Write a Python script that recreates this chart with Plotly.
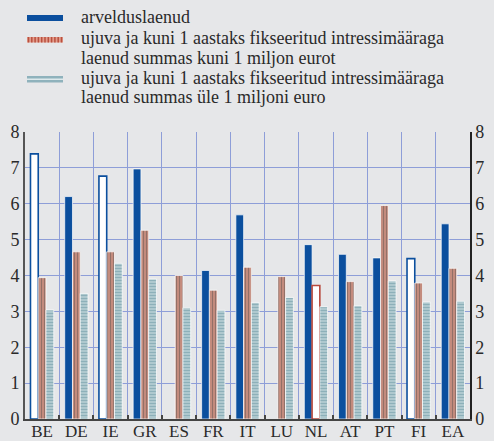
import plotly.graph_objects as go

categories = ["BE", "DE", "IE", "GR", "ES", "FR", "IT", "LU", "NL", "AT", "PT", "FI", "EA"]
overdrafts = [7.39, 6.20, 6.77, 6.97, None, 4.14, 5.69, None, 4.86, 4.59, 4.49, 4.47, 5.44]
small_loans = [3.94, 4.66, 4.66, 5.26, 4.00, 3.59, 4.23, 3.97, 3.72, 3.83, 5.95, 3.79, 4.20]
large_loans = [3.04, 3.50, 4.34, 3.90, 3.10, 3.03, 3.25, 3.39, 3.13, 3.16, 3.85, 3.26, 3.28]
# bars drawn hollow (outline only) in the original
overdrafts_hollow = ["BE", "IE", "FI"]
small_loans_hollow = ["NL"]

legend_lines = [
    ["arvelduslaenud"],
    ["ujuva ja kuni 1 aastaks fikseeritud intressimääraga", "laenud summas kuni 1 miljon eurot"],
    ["ujuva ja kuni 1 aastaks fikseeritud intressimääraga", "laenud summas üle 1 miljoni euro"],
]
y_ticks = [0, 1, 2, 3, 4, 5, 6, 7, 8]

BLUE = "#0B4F9E"
RED_BG = "#E29C8B"
RED_FG = "#B9503F"
TEAL_BG = "#BCD3D8"
TEAL_FG = "#5E8D9A"
BG = "#E6E7E9"
GRID = "#8E9ED8"
FONT = "Liberation Serif, Times New Roman, serif"
FS = 18

W, H = 494, 441
L, R, T, B = 25, 24, 132, 22

fig = go.Figure()

blue_hollow = [c in overdrafts_hollow for c in categories]
fig.add_trace(go.Bar(
    x=categories, y=overdrafts, showlegend=False,
    marker=dict(
        color=["white" if h else BLUE for h in blue_hollow],
        line=dict(color=[BLUE if h else "white" for h in blue_hollow],
                  width=[1.6 if h else 0.7 for h in blue_hollow]),
    ),
))

red_hollow = [c in small_loans_hollow for c in categories]
fig.add_trace(go.Bar(
    x=categories, y=small_loans, showlegend=False,
    marker=dict(
        color=["white" if h else RED_BG for h in red_hollow],
        line=dict(color=["#B8483C" if h else "white" for h in red_hollow],
                  width=[1.6 if h else 0.7 for h in red_hollow]),
        pattern=dict(shape=["" if h else "|" for h in red_hollow],
                     fgcolor=RED_FG, size=3, solidity=0.6),
    ),
))

fig.add_trace(go.Bar(
    x=categories, y=large_loans, showlegend=False,
    marker=dict(
        color=TEAL_BG,
        line=dict(color="white", width=0.7),
        pattern=dict(shape="-", fgcolor=TEAL_FG, size=3, solidity=0.55),
    ),
))

# invisible trace for right axis
fig.add_trace(go.Scatter(x=categories, y=[None] * len(categories), yaxis="y2",
                         showlegend=False, hoverinfo="skip"))

pw = W - L - R
ph = H - T - B

def px_x(x):
    return (x - L) / pw

def px_y(y):
    return (H - B - y) / ph

shapes = []
annotations = []
# legend symbols
sym_x0, sym_x1 = 27, 63
sym_rows = [(15, 21), (37, 42.5), (76, 82.5)]
line_centers = [[16.5], [38.3, 57.5], [78.0, 96.8]]
# blue
shapes.append(dict(type="rect", xref="paper", yref="paper",
                   x0=px_x(sym_x0), x1=px_x(sym_x1), y0=px_y(sym_rows[0][1]), y1=px_y(sym_rows[0][0]),
                   fillcolor=BLUE, line=dict(width=0)))
# red striped
shapes.append(dict(type="rect", xref="paper", yref="paper",
                   x0=px_x(sym_x0), x1=px_x(sym_x1), y0=px_y(sym_rows[1][1]), y1=px_y(sym_rows[1][0]),
                   fillcolor=RED_BG, line=dict(width=0)))
xx = sym_x0 + 1.5
while xx < sym_x1:
    shapes.append(dict(type="line", xref="paper", yref="paper",
                       x0=px_x(xx), x1=px_x(xx), y0=px_y(sym_rows[1][1]), y1=px_y(sym_rows[1][0]),
                       line=dict(color=RED_FG, width=1.5)))
    xx += 3.3
# teal striped
shapes.append(dict(type="rect", xref="paper", yref="paper",
                   x0=px_x(sym_x0), x1=px_x(sym_x1), y0=px_y(sym_rows[2][1]), y1=px_y(sym_rows[2][0]),
                   fillcolor="#8FB2BC", line=dict(width=0)))
shapes.append(dict(type="line", xref="paper", yref="paper",
                   x0=px_x(sym_x0), x1=px_x(sym_x1), y0=px_y(79.2), y1=px_y(79.2),
                   line=dict(color="#DDE9EC", width=1.5)))

for lines, centers in zip(legend_lines, line_centers):
    for txt, cy in zip(lines, centers):
        annotations.append(dict(text=txt, xref="paper", yref="paper", x=px_x(79), y=px_y(cy),
                                xanchor="left", yanchor="middle", showarrow=False, align="left",
                                font=dict(family=FONT, size=FS, color="#2a2a2a")))

fig.update_layout(
    width=W, height=H,
    margin=dict(l=L, r=R, t=T, b=B, autoexpand=False),
    paper_bgcolor=BG, plot_bgcolor=BG,
    barmode="group", bargap=0.32, bargroupgap=0,
    font=dict(family=FONT, size=FS, color="#2a2a2a"),
    shapes=shapes, annotations=annotations,
    xaxis=dict(type="category", tickson="boundaries", ticks="inside", ticklen=4,
               tickcolor="#444", tickwidth=1.5, showline=True, linecolor="#444", linewidth=2,
               showgrid=True, gridcolor=GRID, gridwidth=1, tickfont=dict(size=17),
               tickangle=0, ticklabelstandoff=-4,
               range=[-0.5, len(categories) - 0.5], automargin=False),
    yaxis=dict(range=[0, 8], tickvals=y_ticks, showgrid=True, gridcolor=GRID, gridwidth=1,
               showline=True, linecolor="#555", linewidth=2, ticks="", zeroline=False,
               tickfont=dict(size=FS), automargin=False),
    yaxis2=dict(range=[0, 8], tickvals=y_ticks, overlaying="y", side="right", showgrid=False,
                showline=True, linecolor="#222", linewidth=1.5, ticks="", zeroline=False,
                tickfont=dict(size=FS), automargin=False),
)

fig.write_html("out.html", config={"displayModeBar": False},
               post_script="document.body.style.margin='0';document.body.style.padding='0';")
